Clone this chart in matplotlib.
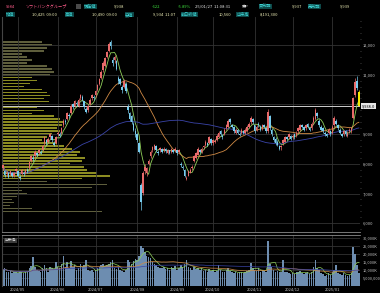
import numpy as np
import pandas as pd
import matplotlib
matplotlib.use("Agg")
import matplotlib.pyplot as plt
from matplotlib.patches import Rectangle

plt.rcParams['font.family'] = ['Noto Sans CJK JP', 'DejaVu Sans']

# ---- data ----
start_date = "2024-04-18"
end_date = "2025-01-27"
holidays = ["2024-04-29", "2024-05-03", "2024-05-06", "2024-07-15", "2024-08-12",
            "2024-09-16", "2024-09-23", "2024-10-14", "2024-11-04", "2024-12-31",
            "2025-01-01", "2025-01-02", "2025-01-03", "2025-01-13"]

opens = [7850, 7750, 7650, 7700, 7650, 7700, 7600, 7750, 7750, 7550,
         7650, 7700, 7680, 7800, 7850, 8100, 8200, 8250, 8350, 8350,
         8400, 8450, 8700, 8800, 8750, 8900, 8950, 8700, 8700, 9000,
         9000, 9050, 9300, 9450, 9500, 9650, 9700, 10000, 9950, 10050,
         9950, 10200, 10250, 10100, 9850, 9800, 10000, 10200, 10250, 10300,
         10500, 10700, 10900, 11150, 11300, 11600, 11800, 12100, 11500, 11500,
         11450, 10900, 10850, 10600, 10600, 10700, 9900, 9700, 9600, 9350,
         9100, 9000, 8700, 7300, 7020, 7750, 7700, 8000, 8250, 8450,
         8500, 8600, 8400, 8450, 8500, 8450, 8500, 8350, 8450, 8400,
         8450, 8450, 8450, 8400, 8000, 7900, 7800, 7500, 7600, 7700,
         7850, 8100, 8200, 8300, 8450, 8400, 8550, 8650, 8700, 8700,
         8850, 8700, 8750, 8800, 8900, 9100, 8950, 9000, 9200, 9250,
         9500, 9300, 9250, 9050, 9150, 9000, 9050, 9100, 9050, 9100,
         9250, 9400, 9500, 9300, 9150, 9350, 9250, 9200, 9300, 9200,
         9100, 9600, 9150, 8900, 8850, 8750, 8600, 8550, 8700, 8750,
         8900, 8900, 8950, 8900, 9000, 8950, 9100, 9150, 9300, 9250,
         9200, 9350, 9200, 9200, 9400, 9500, 9700, 9450, 9250, 9200,
         9050, 9000, 9050, 9100, 9050, 9300, 9450, 9300, 9150, 9000,
         9000, 9100, 8950, 9100, 9100, 9550, 10300, 10800, 10425]
highs = [8000, 7780, 7760, 7740, 7790, 7720, 7720, 7870, 7780, 7620,
         7820, 7760, 7840, 7850, 8100, 8300, 8280, 8450, 8400, 8500,
         8460, 8650, 8950, 8850, 8900, 9050, 8980, 8760, 8950, 9120,
         9060, 9250, 9500, 9520, 9750, 9720, 10000, 10050, 10150, 10120,
         10200, 10350, 10300, 10120, 9900, 10000, 10200, 10350, 10320, 10500,
         10700, 10900, 11150, 11450, 11600, 11800, 12100, 12180, 11600, 11650,
         11480, 10950, 10900, 10650, 10850, 10750, 10000, 9750, 9650, 9400,
         9200, 9050, 8750, 7350, 7750, 7980, 7900, 8150, 8450, 8600,
         8680, 8650, 8450, 8560, 8530, 8550, 8540, 8490, 8480, 8540,
         8480, 8550, 8480, 8500, 8050, 7950, 7820, 7580, 7800, 7850,
         7950, 8300, 8400, 8550, 8500, 8550, 8650, 8800, 8750, 8950,
         8880, 8850, 8830, 9000, 9100, 9130, 9000, 9200, 9350, 9500,
         9550, 9350, 9280, 9200, 9180, 9060, 9200, 9150, 9200, 9300,
         9400, 9600, 9550, 9320, 9300, 9400, 9300, 9350, 9350, 9250,
         9850, 9650, 9200, 8950, 8900, 8800, 8650, 8650, 8850, 8950,
         8950, 9050, 8980, 9000, 9030, 9100, 9250, 9350, 9350, 9280,
         9350, 9380, 9250, 9400, 9600, 9880, 9750, 9500, 9300, 9250,
         9100, 9050, 9200, 9150, 9300, 9600, 9500, 9350, 9200, 9050,
         9150, 9130, 9100, 9200, 9250, 10250, 10900, 10950, 10490]
lows = [7800, 7560, 7600, 7520, 7620, 7540, 7570, 7700, 7560, 7470,
        7620, 7600, 7650, 7700, 7820, 8050, 8100, 8200, 8250, 8300,
        8320, 8420, 8650, 8650, 8700, 8850, 8750, 8600, 8680, 8950,
        8900, 9020, 9250, 9350, 9480, 9550, 9680, 9850, 9900, 9950,
        9920, 10150, 10100, 9850, 9700, 9760, 9980, 10150, 10150, 10250,
        10450, 10650, 10850, 11100, 11250, 11550, 11750, 11850, 11300, 11400,
        11150, 10700, 10650, 10400, 10550, 10400, 9700, 9450, 9350, 9100,
        8900, 8750, 8350, 6450, 6950, 7650, 7600, 7950, 8200, 8400,
        8450, 8400, 8300, 8400, 8350, 8400, 8380, 8320, 8340, 8370,
        8350, 8400, 8300, 8350, 7900, 7800, 7550, 7450, 7580, 7680,
        7800, 8050, 8150, 8280, 8350, 8380, 8500, 8600, 8600, 8680,
        8650, 8650, 8700, 8780, 8880, 8950, 8850, 8980, 9150, 9220,
        9350, 9200, 9050, 9020, 9000, 8930, 9020, 9000, 9020, 9080,
        9200, 9350, 9350, 9050, 9100, 9250, 9100, 9150, 9200, 9050,
        9050, 9150, 8950, 8750, 8650, 8600, 8450, 8480, 8650, 8720,
        8800, 8850, 8800, 8850, 8850, 8900, 9050, 9120, 9200, 9100,
        9150, 9200, 9100, 9150, 9350, 9480, 9550, 9250, 9100, 9050,
        8950, 8900, 9000, 8950, 9000, 9250, 9300, 9150, 9000, 8900,
        8950, 8950, 8900, 9050, 9050, 9500, 10250, 10500, 9934]
closes = [7950, 7620, 7700, 7560, 7750, 7580, 7680, 7820, 7600, 7520,
          7780, 7650, 7800, 7750, 8050, 8250, 8150, 8400, 8300, 8450,
          8380, 8600, 8900, 8700, 8850, 9000, 8800, 8650, 8900, 9050,
          8950, 9200, 9450, 9400, 9700, 9600, 9950, 9900, 10100, 10000,
          10150, 10300, 10150, 9900, 9750, 9950, 10150, 10300, 10200, 10450,
          10650, 10850, 11100, 11400, 11550, 11750, 12050, 11950, 11400, 11600,
          11200, 10800, 10700, 10500, 10800, 10450, 9800, 9500, 9400, 9150,
          9000, 8800, 8400, 6700, 7690, 7900, 7850, 8100, 8400, 8550,
          8620, 8450, 8350, 8520, 8400, 8500, 8420, 8450, 8380, 8500,
          8400, 8500, 8350, 8450, 7950, 7850, 7600, 7520, 7750, 7800,
          7900, 8250, 8350, 8500, 8400, 8500, 8600, 8750, 8650, 8900,
          8700, 8800, 8780, 8950, 9050, 9000, 8900, 9150, 9300, 9450,
          9400, 9250, 9100, 9150, 9050, 8980, 9150, 9050, 9150, 9250,
          9350, 9550, 9400, 9100, 9250, 9300, 9150, 9300, 9250, 9100,
          9750, 9200, 9000, 8800, 8700, 8650, 8500, 8600, 8800, 8900,
          8850, 9000, 8850, 8950, 8900, 9050, 9200, 9300, 9250, 9150,
          9300, 9250, 9150, 9350, 9550, 9800, 9600, 9300, 9150, 9100,
          9000, 8950, 9150, 9000, 9250, 9550, 9350, 9200, 9050, 8950,
          9100, 9000, 9050, 9150, 9200, 10200, 10750, 10560, 9938]
# volume, thousand shares
volumes = [10000, 11000, 9000, 8500, 9500, 8000, 8500, 9000, 8000, 9500,
           8500, 8000, 9000, 9500, 11000, 12500, 18000, 12000, 10000, 9500,
           9000, 11000, 13000, 11000, 9000, 12000, 11000, 10500, 15000, 12000,
           11000, 14000, 19000, 12000, 15000, 11000, 15500, 12000, 13000, 10000,
           11000, 14000, 12000, 13000, 16000, 10000, 9500, 10000, 9000, 10000,
           11000, 12000, 13000, 14000, 12500, 13000, 14000, 15000, 16000, 11000,
           10500, 12000, 10000, 9500, 9000, 10000, 16000, 15000, 14000, 15500,
           17000, 16000, 19000, 25000, 24000, 21000, 19000, 18000, 17500, 15000,
           14000, 13000, 12000, 11500, 11000, 12000, 10500, 11000, 10000, 12000,
           11000, 12500, 10000, 11000, 13000, 12000, 14000, 16000, 12000, 11000,
           10000, 12000, 10500, 11000, 10000, 11500, 9500, 10000, 9000, 10500,
           9500, 10000, 9000, 9500, 13000, 10000, 8500, 9000, 10000, 11000,
           9500, 8500, 8000, 8500, 8000, 9000, 8500, 8000, 9000, 9500,
           10000, 14500, 11000, 10000, 9500, 11000, 9000, 10000, 9500, 9000,
           28000, 14000, 12000, 10000, 9000, 9500, 8500, 9000, 16000, 9000,
           8500, 8000, 7500, 8000, 7500, 8500, 9000, 9500, 8000, 7500,
           8000, 8500, 7500, 9000, 12000, 16000, 11000, 10000, 8000, 7500,
           6500, 7000, 8000, 7000, 9000, 10000, 13000, 8000, 7500, 7000,
           8000, 7000, 6500, 7000, 8000, 24500, 20000, 13000, 8191]

# price-by-volume profile (left side), bin centre and relative volume
profile_price = [6400, 6500, 6600, 6700, 6800, 6900, 7000, 7100, 7200, 7300,
                 7400, 7500, 7600, 7700, 7800, 7900, 8000, 8100, 8200, 8300,
                 8400, 8500, 8600, 8700, 8800, 8900, 9000, 9100, 9200, 9300,
                 9400, 9500, 9600, 9700, 9800, 9900, 10000, 10100, 10200, 10300,
                 10400, 10500, 10600, 10700, 10800, 10900, 11000, 11100, 11200, 11300,
                 11400, 11500, 11600, 11700, 11800, 11900, 12000, 12100]
profile_volume = [100, 30, 8, 12, 10, 15, 25, 20, 90, 105,
                  45, 80, 108, 95, 85, 82, 68, 80, 83, 75,
                  78, 70, 62, 55, 40, 45, 50, 58, 55, 60,
                  62, 58, 52, 30, 42, 35, 38, 47, 42, 48,
                  45, 40, 22, 28, 35, 30, 48, 52, 50, 45,
                  25, 30, 25, 20, 42, 45, 50, 40]

ma_windows = [5, 25, 75]
price_ticks = [6000, 7000, 8000, 9000, 10000, 11000, 12000]
price_tick_labels = ["6,000", "7,000", "8,000", "9,000", "", "11,000", "12,000"]
vol_ticks = [5000, 10000, 15000, 20000, 25000, 30000]
vol_tick_labels = ["5,000,000", "10,000K", "15,000K", "20,000K", "25,000K", "30,000K"]

last_price = 9938

header_row1 = [("9984", 6, "#ff5c8a", None), ("ソフトバンクグループ", 25, "#ff5c8a", None),
               ("現在値", 84, "#3fd6d6", "lab"), ("9,938", 114, "#f0f0b8", None),
               ("-622", 152, "#3ee03e", None), ("-5.89%", 178, "#3ee03e", None),
               ("25/01/27  11:08:31", 195, "#e8e8e8", None), ("東P", 242, "#e8e8e8", None),
               ("買気配", 259, "#3fd6d6", "lab"), ("9,937", 292, "#f0f0b8", None),
               ("売気配", 308, "#3fd6d6", "lab"), ("9,939", 340, "#f0f0b8", None)]
header_row2 = [("始値", 6, "#3fd6d6", "lab"), ("10,425  09:00", 32, "#f0f0b8", None),
               ("高値", 65, "#3fd6d6", "lab"), ("10,490  09:00", 92, "#f0f0b8", None),
               ("安値", 125, "#3fd6d6", "lab"), ("9,934  11:07", 153, "#f0f0b8", None),
               ("前日終値", 181, "#3fd6d6", "lab"), ("10,560", 219, "#f0f0b8", None),
               ("出来高", 236, "#3fd6d6", "lab"), ("8,191,300", 260, "#f0f0b8", None)]

# ---- build ----
dates = pd.bdate_range(start_date, end_date)
dates = dates[~dates.isin(pd.to_datetime(holidays))]
n = len(dates)
idx = np.arange(n)
o = np.array(opens, float)
h = np.array(highs, float)
l = np.array(lows, float)
c = np.array(closes, float)
v = np.array(volumes, float)

month_pos = []
month_lab = []
for i in range(1, n):
    if dates[i].month != dates[i - 1].month:
        month_pos.append(i)
        month_lab.append(dates[i].strftime("%Y/%m"))

W, H = 380, 293
fig = plt.figure(figsize=(W / 100, H / 100), dpi=100, facecolor="black")


def px_axes(left, top, right, bottom):
    return fig.add_axes([left / W, 1 - bottom / H, (right - left) / W, (bottom - top) / H])


grid_c = "#333333"
text_c = "#c4c4c4"
up_c = "#e86a6a"
down_c = "#78cdef"
ma_colors = ["#8fcf5a", "#d08a45", "#3a44a8"]
fs = 2.9

# volume profile sits behind the price panel
axp = px_axes(2, 17, 360, 232)
axp.set_facecolor("black")
prof_colors = ["#5e5e3c" if (p < 7500 or p > 10900) else "#8c8c22" for p in profile_price]
axp.barh(profile_price, profile_volume, height=55, color=prof_colors, linewidth=0)
axp.set_xlim(0, 358)
axp.set_ylim(5704, 12943)
axp.axis("off")

ax = px_axes(2, 17, 360, 232)
ax.patch.set_visible(False)
ax.set_xlim(-0.4, n - 0.4)
ax.set_ylim(5704, 12943)
ax.set_xticks(month_pos)
ax.set_xticklabels([])
ax.set_yticks(price_ticks)
ax.set_yticklabels(price_tick_labels)
ax.set_yticks(np.arange(5800, 12900, 200), minor=True)
ax.yaxis.tick_right()
ax.tick_params(axis="y", which="major", length=0, pad=2, labelsize=fs, labelcolor=text_c)
ax.tick_params(axis="y", which="minor", length=1.0, width=0.5, color="#555555")
ax.tick_params(axis="x", length=0)
ax.grid(True, color=grid_c, linewidth=0.6)
for s in ["top", "right"]:
    ax.spines[s].set_visible(False)
ax.spines["left"].set_color("#444444")
ax.spines["bottom"].set_color("#8a8a8a")
ax.spines["bottom"].set_linewidth(0.6)

# moving averages
for w, col in zip(ma_windows, ma_colors):
    ax.plot(idx, pd.Series(c).rolling(w, min_periods=1).mean(), color=col, lw=0.6, zorder=3)

# candles
cols = [up_c if cc >= oo else down_c for oo, cc in zip(o, c)]
cols[-1] = "#f2e600"
ax.vlines(idx, l, h, colors=cols, linewidth=0.5, zorder=4)
body = np.maximum(np.abs(c - o), 20)
ax.bar(idx, body, bottom=np.minimum(o, c), width=0.8, color=cols, linewidth=0, zorder=5)

# current price line and tag
ax.axhline(last_price, color="#cfcfcf", lw=0.7, zorder=2)
ax.text(1.004, last_price, f"{last_price:,}.0", transform=ax.get_yaxis_transform(),
        fontsize=2.9, color="black", va="center", ha="left", zorder=6,
        bbox=dict(boxstyle="square,pad=0.2", fc="#e6e6e6", ec="none"))

# volume panel
axv = px_axes(2, 235, 360, 286)
axv.set_facecolor("black")
axv.set_xlim(-0.4, n - 0.4)
axv.set_ylim(0, 31900)
axv.bar(idx, v, width=0.8, color="#6d8db0", linewidth=0)
for w, col in zip(ma_windows, ma_colors):
    axv.plot(idx, pd.Series(v).rolling(w, min_periods=1).mean(), color=col, lw=0.5)
axv.set_xticks(month_pos)
axv.set_xticklabels(month_lab)
axv.set_yticks(vol_ticks)
axv.set_yticklabels(vol_tick_labels)
axv.yaxis.tick_right()
axv.tick_params(axis="y", length=0, pad=2, labelsize=2.8, labelcolor=text_c)
axv.tick_params(axis="x", length=0, pad=1.0, labelsize=fs, labelcolor=text_c)
axv.grid(True, color=grid_c, linewidth=0.6)
axv.set_axisbelow(True)
for s in ["right", "bottom"]:
    axv.spines[s].set_visible(False)
axv.spines["left"].set_color("#444444")
axv.spines["top"].set_color("#8a8a8a")
axv.spines["top"].set_linewidth(0.6)
axv.text(0.008, 0.9, "出来高", transform=axv.transAxes, fontsize=2.8, color="#dddddd",
         va="center", ha="left", bbox=dict(boxstyle="square,pad=0.15", fc="#3a3a3a", ec="none"))


# header
def header(items, ypx):
    for txt, xpx, col, kind in items:
        box = None
        if kind == "lab":
            box = dict(boxstyle="square,pad=0.12", fc="#0d4848", ec="none")
        fig.text(xpx / W, 1 - ypx / H, txt, color=col, fontsize=3.0, va="center",
                 ha="left", bbox=box)


header(header_row1, 6.5)
header(header_row2, 14.5)
fig.patches.append(Rectangle((76 / W, 1 - 9 / H), 5 / W, 5 / H, transform=fig.transFigure,
                             fc="#4a4a4a", ec="none"))

fig.savefig("out.png", dpi=100, facecolor="black")
